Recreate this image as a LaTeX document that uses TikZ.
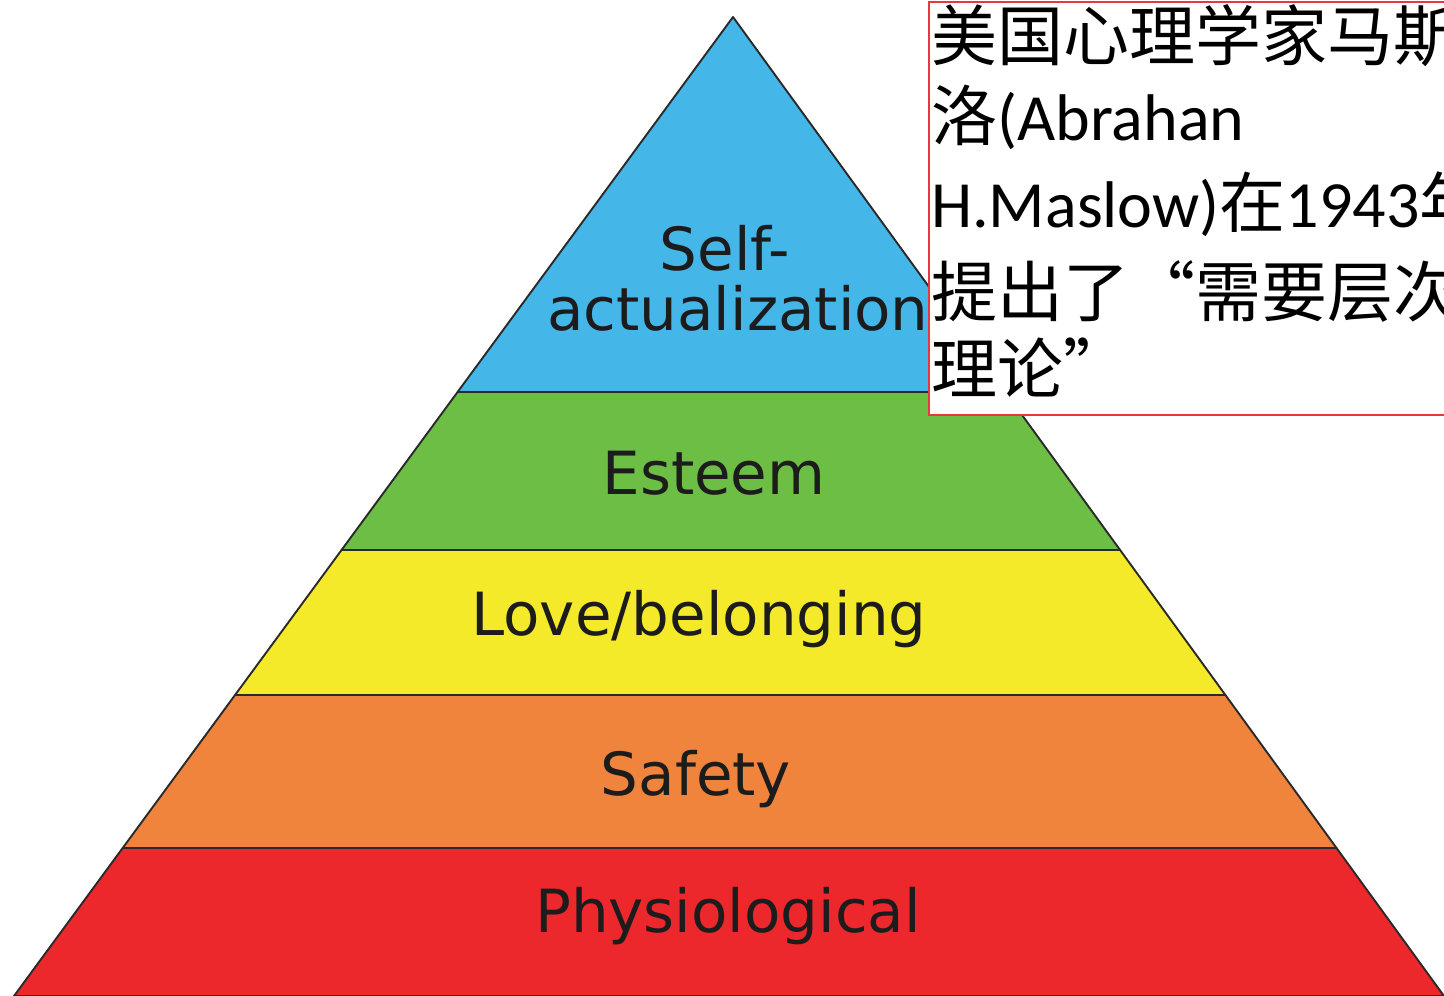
\documentclass[tikz,border=0pt]{standalone}
\usepackage{fontspec}
\setmainfont{Carlito}
\newfontfamily\dejavu{DejaVu Sans}
\newfontfamily\cjk{Noto Sans CJK SC}
\usetikzlibrary{calc}
\definecolor{cblue}{HTML}{45B6E8}
\definecolor{cgreen}{HTML}{6DBE45}
\definecolor{cyellow}{HTML}{F5EA2A}
\definecolor{corange}{HTML}{F0843C}
\definecolor{cred}{HTML}{EC282C}
\definecolor{cedge}{HTML}{2A2A2A}
\definecolor{ctext}{HTML}{1C1C1C}
\definecolor{cbox}{HTML}{E8383D}
\tikzset{
  band/.style={draw=cedge, line width=1.9pt, line join=round},
  lvl/.style={anchor=base, inner sep=0pt, text=ctext, font=\dejavu\fontsize{59.5}{60}\selectfont},
  noteline/.style={anchor=base west, inner sep=0pt, text=black, font=\fontsize{66}{80}\selectfont},
  notebox/.style={draw=cbox, fill=white, line width=1.6pt}
}
\begin{document}
\begin{tikzpicture}[x=1pt,y=-1pt]
\useasboundingbox (0,0) rectangle (1444,996);
\clip (0,0) rectangle (1444,996);
\fill[white] (0,0) rectangle (1444,996);
\coordinate (A) at (733,17);
\coordinate (BL) at (14,996);
\coordinate (BR) at (1444,996);
\coordinate (L1) at ($(A)!0.38304!(BL)$);
\coordinate (R1) at ($(A)!0.38304!(BR)$);
\coordinate (L2) at ($(A)!0.54443!(BL)$);
\coordinate (R2) at ($(A)!0.54443!(BR)$);
\coordinate (L3) at ($(A)!0.69254!(BL)$);
\coordinate (R3) at ($(A)!0.69254!(BR)$);
\coordinate (L4) at ($(A)!0.84883!(BL)$);
\coordinate (R4) at ($(A)!0.84883!(BR)$);
% bands
\path[band, fill=cred] (L4) -- (R4) -- (BR) -- (BL) -- cycle;
\path[band, fill=corange] (L3) -- (R3) -- (R4) -- (L4) -- cycle;
\path[band, fill=cyellow] (L2) -- (R2) -- (R3) -- (L3) -- cycle;
\path[band, fill=cgreen] (L1) -- (R1) -- (R2) -- (L2) -- cycle;
\path[band, fill=cblue] (A) -- (R1) -- (L1) -- cycle;
% labels
\node[lvl] (self) at (725,270) {Self-};
\node[lvl, anchor=base west] (actu) at (547,330) {actualization};
\node[lvl] (esteem) at (714,494) {Esteem};
\node[lvl] (love) at (699,635) {Love/belonging};
\node[lvl] (safety) at (696,795) {Safety};
\node[lvl] (phys) at (728,932) {Physiological};
% note box
\path[notebox] (929,2) rectangle (1460,415);
\node[noteline] (n1) at (931,60) {\cjk 美国心理学家马斯};
\node[noteline] (n2) at (931,140) {{\cjk 洛}(Abrahan};
\node[noteline] (n3) at (931,227) {H.Maslow){\cjk 在}1943{\cjk 年}};
\node[noteline] (n4) at (931,316) {\cjk 提出了“需要层次};
\node[noteline] (n5) at (931,393) {\cjk 理论”};
\end{tikzpicture}
\end{document}
